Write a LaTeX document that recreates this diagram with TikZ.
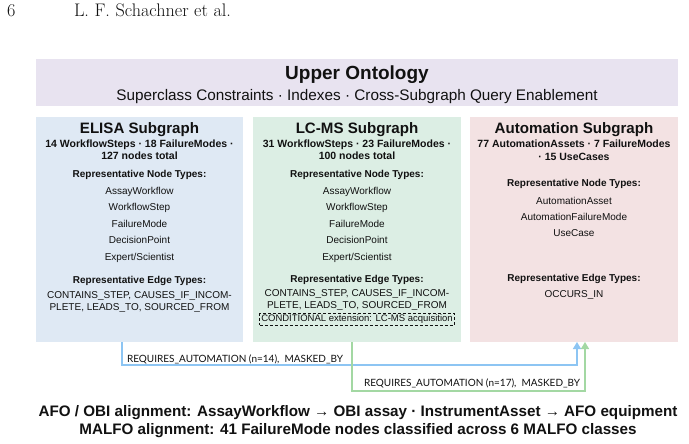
\documentclass[tikz,border=0pt]{standalone}
\usepackage{fontspec}
\newfontfamily\arialf{Liberation Sans}
\newfontfamily\latof{Lato}
\usetikzlibrary{arrows.meta}
\definecolor{upfill}{HTML}{E8E3F0}
\definecolor{elfill}{HTML}{DFE9F4}
\definecolor{lcfill}{HTML}{DCEEE4}
\definecolor{aufill}{HTML}{F3E2E3}
\definecolor{blueln}{HTML}{8DC5F3}
\definecolor{greenln}{HTML}{A3D8A3}
\definecolor{ink}{HTML}{111111}
\newcommand\fsz[2]{\fontsize{#1pt}{#2pt}\selectfont}
\begin{document}
\begin{tikzpicture}[x=1pt,y=-1pt,
  panel/.style={rectangle, inner sep=0pt, outer sep=0pt, draw=none},
  txt/.style={inner sep=0pt, outer sep=0pt, text=ink},
  bigttl/.style={txt, anchor=base, font=\arialf\bfseries\fsz{19}{22}},
  subttl/.style={txt, anchor=base, font=\arialf\fsz{15.3}{18}},
  ttl/.style={txt, anchor=base, font=\arialf\bfseries\fsz{15.1}{18}},
  stat/.style={txt, anchor=base, font=\arialf\bfseries\fsz{10.5}{12.5}},
  hdr/.style={txt, anchor=base, font=\arialf\bfseries\fsz{10}{12}},
  item/.style={txt, anchor=base, font=\arialf\fsz{10}{12}},
  lab/.style={txt, anchor=base west, font=\latof\fsz{10}{12}},
  foot/.style={txt, anchor=base, font=\arialf\bfseries\fsz{15.2}{18}},
  conn/.style={line width=1.5pt, -{Triangle[width=8pt,length=7pt]}},
]
\useasboundingbox (0,0) rectangle (689,444);
\fill[white] (0,0) rectangle (689,444);

% page header
\node[txt, anchor=base west, font=\fsz{18.2}{22}] (pg) at (7,17) {6};
\node[txt, anchor=base west, font=\fsz{18.2}{22}] (au) at (74,17) {L. F. Schachner et al.};

% upper ontology
\node[panel, fill=upfill, minimum width=642pt, minimum height=46.7pt] (upper) at (357,82.35) {};
\node[bigttl] (upt) at (357,80) {Upper Ontology};
\node[subttl] (ups) at (357,100) {Superclass Constraints · Indexes · Cross-Subgraph Query Enablement};

% subgraph panels
\node[panel, fill=elfill, minimum width=207pt, minimum height=225pt] (elisa) at (139.5,229.5) {};
\node[panel, fill=lcfill, minimum width=208pt, minimum height=225pt] (lcms) at (357,229.5) {};
\node[panel, fill=aufill, minimum width=208pt, minimum height=225pt] (auto) at (574,229.5) {};

% ELISA
\node[ttl]  (e0) at (139.5,133) {ELISA Subgraph};
\node[stat] (e1) at (139.5,147) {14 WorkflowSteps · 18 FailureModes ·};
\node[stat] (e2) at (139.5,159.5) {127 nodes total};
\node[hdr]  (e3) at (139.5,177) {Representative Node Types:};
\node[item] (e4) at (139.5,194) {AssayWorkflow};
\node[item] (e5) at (139.5,210.5) {WorkflowStep};
\node[item] (e6) at (139.5,227) {FailureMode};
\node[item] (e7) at (139.5,243.5) {DecisionPoint};
\node[item] (e8) at (139.5,260) {Expert/Scientist};
\node[hdr]  (e9) at (139.5,283) {Representative Edge Types:};
\node[item] (e10) at (139.5,298.5) {CONTAINS\_STEP, CAUSES\_IF\_INCOM-};
\node[item] (e11) at (139.5,310) {PLETE, LEADS\_TO, SOURCED\_FROM};

% LC-MS
\node[ttl]  (l0) at (357,133) {LC-MS Subgraph};
\node[stat] (l1) at (357,147) {31 WorkflowSteps · 23 FailureModes ·};
\node[stat] (l2) at (357,159.5) {100 nodes total};
\node[hdr]  (l3) at (357,177) {Representative Node Types:};
\node[item] (l4) at (357,194) {AssayWorkflow};
\node[item] (l5) at (357,210.5) {WorkflowStep};
\node[item] (l6) at (357,227) {FailureMode};
\node[item] (l7) at (357,243.5) {DecisionPoint};
\node[item] (l8) at (357,260) {Expert/Scientist};
\node[hdr]  (l9) at (357,282) {Representative Edge Types:};
\node[item] (l10) at (357,296.5) {CONTAINS\_STEP, CAUSES\_IF\_INCOM-};
\node[item] (l11) at (357,308) {PLETE, LEADS\_TO, SOURCED\_FROM};
\node[draw=ink, dashed, dash pattern=on 3pt off 2pt, line width=0.7pt, inner sep=1.5pt,
      text=ink, font=\arialf\fsz{9.5}{11}] (cond) at (357,319.5) {CONDITIONAL extension: LC-MS acquisition};

% Automation
\node[ttl]  (a0) at (574,133) {Automation Subgraph};
\node[stat] (a1) at (574,147) {77 AutomationAssets · 7 FailureModes};
\node[stat] (a2) at (574,160.5) {· 15 UseCases};
\node[hdr]  (a3) at (574,186) {Representative Node Types:};
\node[item] (a4) at (574,204.3) {AutomationAsset};
\node[item] (a5) at (574,220.7) {AutomationFailureMode};
\node[item] (a6) at (574,236.7) {UseCase};
\node[hdr]  (a7) at (574,281.7) {Representative Edge Types:};
\node[item] (a8) at (574,297.3) {OCCURS\_IN};

% connectors
\coordinate (bx) at (122,0);
\coordinate (bturn) at (577,365);
\coordinate (gx) at (352,0);
\coordinate (gturn) at (585,391);
\draw[conn, blueln] (elisa.south -| bx) |- (bturn) -- (auto.south -| bturn);
\draw[conn, greenln] (lcms.south -| gx) |- (gturn) -- (auto.south -| gturn);
\node[lab] (bl) at (127,362) {REQUIRES\_AUTOMATION (n=14),\ \ MASKED\_BY};
\node[lab] (gl) at (364,386) {REQUIRES\_AUTOMATION (n=17),\ \ MASKED\_BY};

% footer
\node[foot] (f1) at (358,416) {AFO / OBI alignment: AssayWorkflow → OBI assay · InstrumentAsset → AFO equipment};
\node[foot] (f2) at (358,434.5) {MALFO alignment: 41 FailureMode nodes classified across 6 MALFO classes};
\end{tikzpicture}
\end{document}
